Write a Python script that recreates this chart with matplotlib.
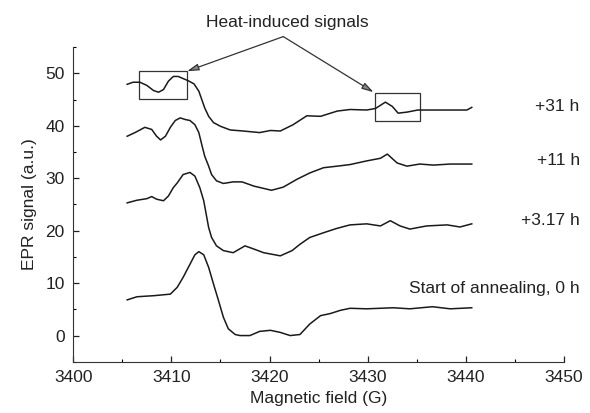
import matplotlib.pyplot as plt
from matplotlib.patches import Rectangle

plt.rcParams['font.family'] = ['Liberation Sans', 'DejaVu Sans']

# EPR spectra (field in G, signal in a.u.)
field_0h = [3405.5, 3406.5, 3408.2, 3409.9, 3410.6, 3411.2, 3411.9, 3412.4, 3412.8, 3413.3,
            3413.8, 3414.3, 3414.8, 3415.3, 3415.8, 3416.5, 3417.0, 3418.0, 3419.0, 3420.1,
            3421.1, 3422.1, 3423.1, 3424.1, 3425.2, 3426.2, 3427.2, 3428.2, 3429.9, 3432.6,
            3434.3, 3436.6, 3438.4, 3440.6]
signal_0h = [6.8, 7.4, 7.6, 7.9, 9.2, 11.1, 13.6, 15.4, 16.0, 15.4,
             13.0, 9.8, 6.7, 3.5, 1.3, 0.2, 0.0, 0.0, 0.8, 1.0,
             0.6, 0.0, 0.2, 2.2, 3.8, 4.2, 4.8, 5.2, 5.1, 5.3,
             5.1, 5.5, 5.1, 5.3]

field_3h = [3405.5, 3406.5, 3407.5, 3408.0, 3408.5, 3409.2, 3409.7, 3410.2, 3410.6, 3411.2,
            3411.9, 3412.4, 3412.9, 3413.3, 3413.8, 3414.1, 3414.6, 3415.3, 3416.3, 3417.5,
            3418.4, 3419.4, 3421.1, 3422.3, 3423.1, 3424.1, 3425.5, 3426.8, 3428.2, 3429.9,
            3431.3, 3432.3, 3433.3, 3434.3, 3436.0, 3438.1, 3439.4, 3440.6]
signal_3h = [25.3, 25.8, 26.1, 26.5, 26.0, 25.7, 26.6, 28.2, 29.1, 30.7,
             31.1, 30.4, 28.2, 25.7, 20.6, 18.7, 17.1, 16.2, 15.8, 17.1,
             16.5, 15.8, 15.2, 16.2, 17.4, 18.7, 19.6, 20.4, 21.1, 21.3,
             20.9, 21.9, 20.9, 20.3, 20.9, 21.1, 20.7, 21.3]

field_11h = [3405.5, 3406.3, 3407.3, 3408.0, 3408.5, 3408.9, 3409.4, 3409.9, 3410.4, 3410.9,
             3411.4, 3411.9, 3412.4, 3412.8, 3413.1, 3413.4, 3413.8, 3414.1, 3414.6, 3415.3,
             3416.3, 3417.2, 3418.4, 3420.2, 3421.4, 3422.8, 3424.1, 3425.5, 3426.9, 3428.2,
             3429.9, 3431.3, 3432.0, 3433.0, 3434.0, 3435.3, 3436.7, 3438.4, 3440.6]
signal_11h = [38.0, 38.7, 39.7, 39.3, 38.0, 37.3, 38.0, 39.7, 41.0, 41.5,
              41.2, 41.0, 40.2, 38.7, 36.4, 34.2, 32.3, 30.7, 29.5, 29.0,
              29.3, 29.3, 28.5, 27.7, 28.3, 29.8, 31.0, 32.0, 32.3, 32.6,
              33.3, 33.8, 34.6, 32.9, 32.3, 32.7, 32.5, 32.7, 32.7]

field_31h = [3405.5, 3406.1, 3406.8, 3407.5, 3408.2, 3408.7, 3409.2, 3409.7, 3410.2, 3410.7,
             3411.2, 3411.7, 3412.3, 3412.8, 3413.1, 3413.4, 3413.8, 3414.3, 3415.0, 3416.0,
             3417.3, 3419.0, 3420.1, 3421.1, 3422.4, 3423.8, 3425.2, 3426.9, 3428.2, 3429.9,
             3430.8, 3431.8, 3432.5, 3433.1, 3434.0, 3435.1, 3436.7, 3438.4, 3440.1, 3440.6]
signal_31h = [47.9, 48.3, 48.3, 47.7, 46.7, 46.4, 46.9, 48.5, 49.4, 49.4,
              49.0, 48.6, 48.0, 46.6, 45.0, 43.4, 41.8, 40.6, 39.9, 39.2,
              39.0, 38.7, 39.1, 39.0, 40.2, 41.9, 41.8, 42.8, 43.1, 43.0,
              43.3, 44.5, 43.7, 42.4, 42.6, 43.0, 43.0, 43.0, 43.0, 43.5]

labels = ['+31 h', '+11 h', '+3.17 h', 'Start of annealing, 0 h']
label_y = [43.7, 33.3, 21.9, 8.9]

# boxes around the heat-induced signals: (x0, y0, width, height)
boxes = [(3406.7, 45.1, 4.9, 5.3), (3430.7, 40.9, 4.6, 5.3)]

fig = plt.figure(figsize=(5.9, 4.13), dpi=100)
ax = fig.add_axes([0.124, 0.124, 0.832, 0.762])

for f, s in [(field_0h, signal_0h), (field_3h, signal_3h), (field_11h, signal_11h), (field_31h, signal_31h)]:
    ax.plot(f, s, color='#1a1a1a', lw=1.1, solid_joinstyle='round')

for lab, yy in zip(labels, label_y):
    ax.text(3451.6, yy, lab, ha='right', va='center', fontsize=12.5, color='#222222', clip_on=False)

for (x0, y0, w, h) in boxes:
    ax.add_patch(Rectangle((x0, y0), w, h, fill=False, ec='#333333', lw=0.9))

# arrows from the caption to the boxes
apex = (3421.4, 57.0)
for tip in [(3411.6, 50.4), (3430.6, 46.4)]:
    ax.annotate('', xy=tip, xytext=apex, annotation_clip=False,
                arrowprops=dict(arrowstyle='-|>,head_length=0.7,head_width=0.2',
                                fc='#888888', ec='#333333', lw=0.9, shrinkA=0, shrinkB=0))
ax.text(3421.8, 59.6, 'Heat-induced signals', ha='center', va='center', fontsize=12.5,
        color='#222222', clip_on=False)

ax.set_xlim(3400, 3450)
ax.set_ylim(-5, 55)
ax.set_xticks([3400, 3410, 3420, 3430, 3440, 3450])
ax.set_xticks([3405, 3415, 3425, 3435, 3445], minor=True)
ax.set_yticks([0, 10, 20, 30, 40, 50])
ax.set_yticks([-5, 5, 15, 25, 35, 45, 55], minor=True)
ax.tick_params(direction='in', length=4, width=0.9, labelsize=12.5, colors='#222222', pad=6)
ax.tick_params(which='minor', direction='in', length=2.5, width=0.8)
ax.spines['top'].set_visible(False)
ax.spines['right'].set_visible(False)
ax.spines['left'].set_color('#333333')
ax.spines['bottom'].set_color('#333333')
ax.set_xlabel('Magnetic field (G)', fontsize=12.5, color='#222222', labelpad=4)
ax.set_ylabel('EPR signal (a.u.)', fontsize=12.5, color='#222222', labelpad=6)

fig.savefig('out.png', dpi=100)
